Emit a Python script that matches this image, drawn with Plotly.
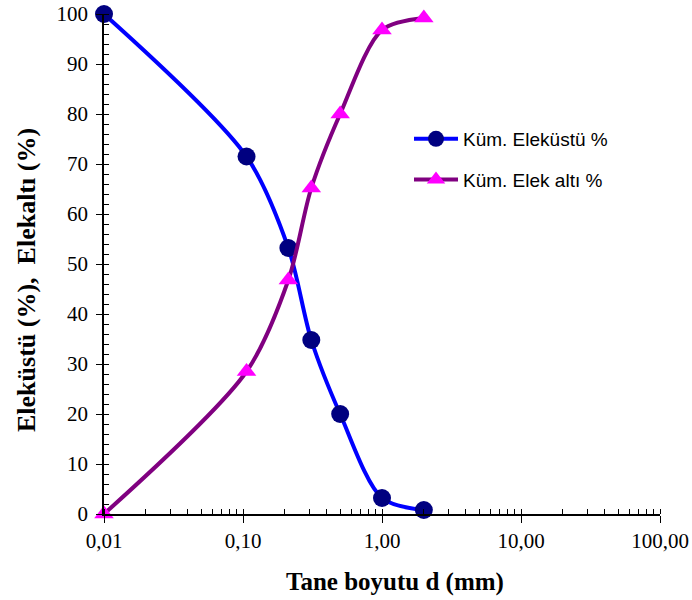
import plotly.graph_objects as go

# Sieve analysis: grain size (mm) vs cumulative retained / passing percentages
grain_size_mm = [0.01, 0.106, 0.212, 0.31, 0.5, 1.0, 2.0]
cum_retained = [100, 71.5, 53.2, 34.8, 20.0, 3.2, 0.8]
cum_passing = [0, 28.5, 46.8, 65.2, 80.0, 96.8, 99.2]

series_names = ["Küm. Eleküstü %", "Küm. Elek altı %"]

x_tick_vals = [0.01, 0.1, 1, 10, 100]
x_tick_text = ["0,01", "0,10", "1,00", "10,00", "100,00"]
y_tick_vals = list(range(0, 101, 10))

x_title = "Tane boyutu d (mm)"
y_title = "Eleküstü (%),  Elekaltı (%)"

serif = "Liberation Serif, Times New Roman, serif"
sans = "Liberation Sans, Arial, sans-serif"

PLOT_L, PLOT_R, PLOT_T, PLOT_B = 104, 660, 14, 514
PW, PH = PLOT_R - PLOT_L, PLOT_B - PLOT_T

fig = go.Figure()

fig.add_trace(go.Scatter(
    x=grain_size_mm, y=cum_retained, name=series_names[0],
    mode="lines+markers", cliponaxis=False, legendgroup="a",
    line=dict(color="#0000FF", width=4, shape="spline", smoothing=0.85),
    marker=dict(symbol="circle", size=18, color="#000080", line=dict(width=0)),
))
fig.add_trace(go.Scatter(
    x=grain_size_mm, y=cum_passing, name=series_names[1],
    mode="lines+markers", cliponaxis=False, legendgroup="b",
    line=dict(color="#800080", width=4, shape="spline", smoothing=0.85),
    marker=dict(symbol="triangle-up", size=17, color="#FF00FF", line=dict(width=0)),
))
# empty trace so the overlay axes (inner half of major ticks) get drawn
fig.add_trace(go.Scatter(x=[], y=[], xaxis="x2", yaxis="y2", showlegend=False,
                         hoverinfo="skip"))

fig.update_layout(
    width=692, height=600,
    margin=dict(l=PLOT_L, r=692 - PLOT_R, t=PLOT_T, b=600 - PLOT_B,
                autoexpand=False),
    paper_bgcolor="white", plot_bgcolor="white",
    showlegend=True,
    legend=dict(
        x=(409 - PLOT_L) / PW, y=(PLOT_B - 120) / PH,
        xanchor="left", yanchor="top",
        font=dict(family=sans, size=19, color="black"),
        bgcolor="rgba(0,0,0,0)", tracegroupgap=13, itemwidth=44,
    ),
    xaxis=dict(
        type="log", range=[-2, 2],
        tickvals=x_tick_vals, ticktext=x_tick_text,
        ticks="outside", ticklen=7, tickwidth=1.3, tickcolor="black",
        showline=True, linecolor="black", linewidth=1.5,
        showgrid=False, zeroline=False,
        tickfont=dict(family=serif, size=21, color="black"),
        minor=dict(dtick="D1", ticks="inside", ticklen=5, tickwidth=1.2,
                   tickcolor="black", showgrid=False),
    ),
    yaxis=dict(
        range=[0, 100], tickvals=y_tick_vals,
        ticks="outside", ticklen=6, tickwidth=1.3, tickcolor="black",
        showline=True, linecolor="black", linewidth=1.5,
        showgrid=False, zeroline=False,
        tickfont=dict(family=serif, size=21, color="black"),
        ticklabelstandoff=4,
        minor=dict(dtick=2, ticks="inside", ticklen=5, tickwidth=1.2,
                   tickcolor="black", showgrid=False),
    ),
    xaxis2=dict(
        type="log", range=[-2, 2], overlaying="x", anchor="y2",
        tickvals=x_tick_vals, ticks="inside", ticklen=5, tickwidth=1.3,
        tickcolor="black", showticklabels=False, showline=False,
        showgrid=False, zeroline=False,
    ),
    yaxis2=dict(
        range=[0, 100], overlaying="y", anchor="x2",
        tickvals=y_tick_vals, ticks="inside", ticklen=4, tickwidth=1.3,
        tickcolor="black", showticklabels=False, showline=False,
        showgrid=False, zeroline=False,
    ),
    annotations=[
        dict(text=f"<b>{x_title}</b>", xref="paper", yref="paper",
             x=(395 - PLOT_L) / PW, y=(PLOT_B - 582) / PH,
             xanchor="center", yanchor="middle", showarrow=False,
             font=dict(family=serif, size=25, color="black")),
        dict(text=f"<b>{y_title}</b>", xref="paper", yref="paper",
             x=(26 - PLOT_L) / PW, y=(PLOT_B - 280) / PH, textangle=-90,
             xanchor="center", yanchor="middle", showarrow=False,
             font=dict(family=serif, size=26, color="black")),
    ],
)

fig.write_html("out.html")
